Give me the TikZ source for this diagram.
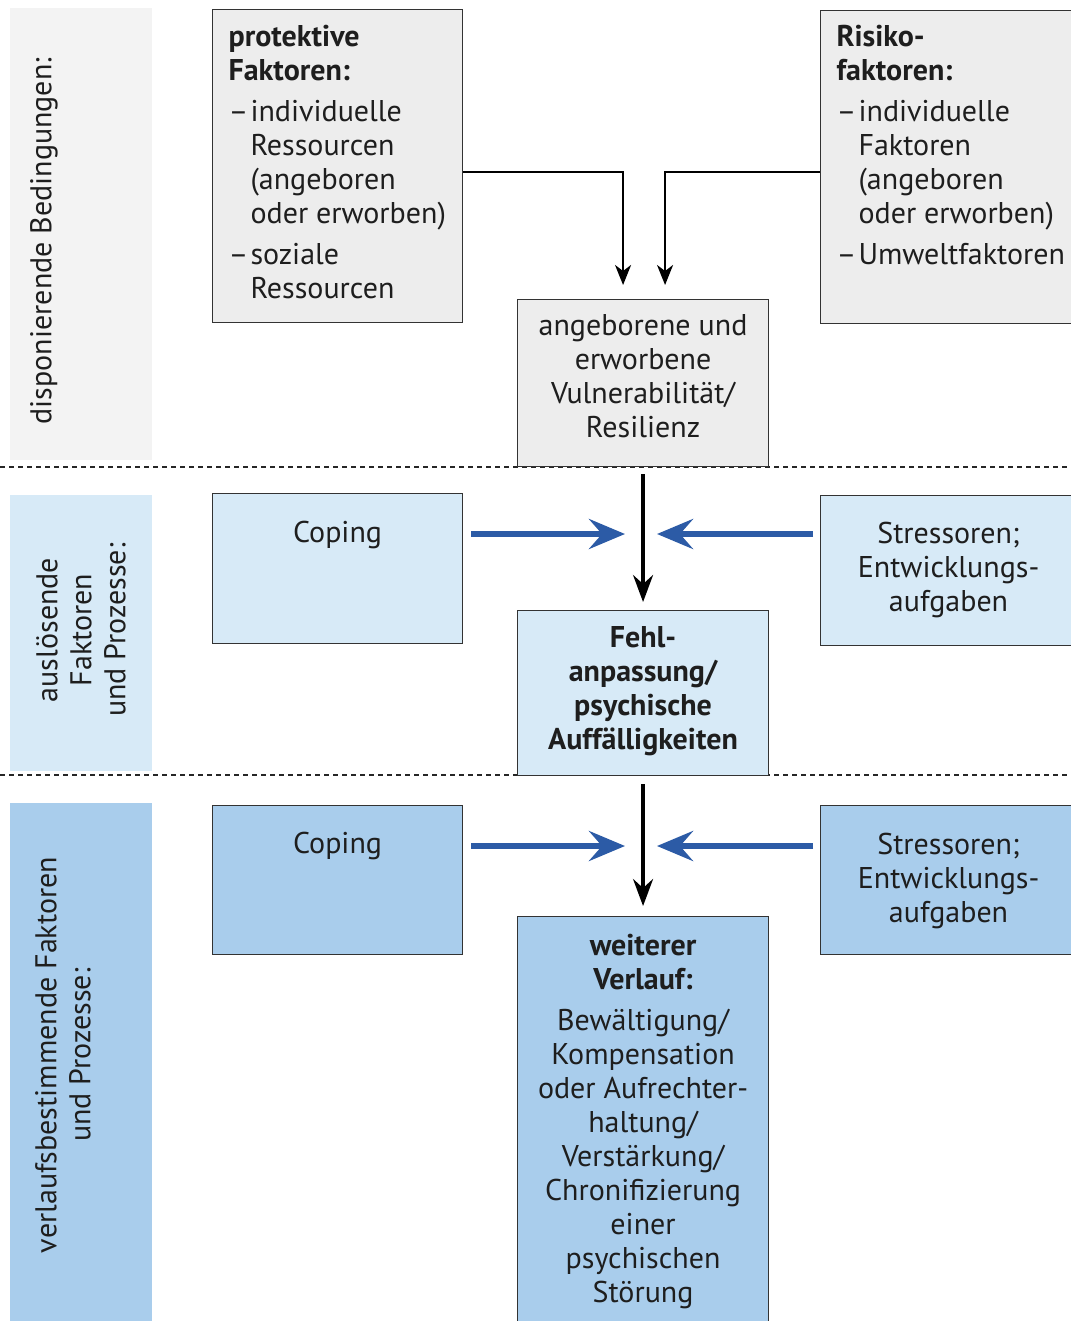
\documentclass[tikz,border=0pt]{standalone}
\usepackage{fontspec}
\setmainfont{PT Sans}
\usetikzlibrary{arrows.meta}
\definecolor{gfill}{HTML}{EDEDED}
\definecolor{panelg}{HTML}{F3F3F3}
\definecolor{lblue}{HTML}{D7EAF7}
\definecolor{mblue}{HTML}{A9CDEC}
\definecolor{arrblue}{HTML}{2C5BA6}
\definecolor{txt}{HTML}{1E1E1E}
\newcommand{\dsh}{\makebox[22pt][l]{–}}
\newcommand{\ind}{\hspace*{22pt}}
\newcommand{\topbox}[4]{\parbox[c][#2pt][t]{#1pt}{\fontsize{30}{34}\selectfont\vspace*{#3pt}#4}}
\begin{document}
\begin{tikzpicture}[x=1pt,y=-1pt,
  every node/.style={text=txt},
  fbox/.style={draw=black!80, line width=1.1pt, inner sep=0pt, anchor=north west},
  lbl/.style={rotate=90, font=\fontsize{30}{34}\selectfont, align=center, text=txt},
  elbow/.style={draw=black, line width=2pt, -{Stealth[length=20pt,width=16pt,inset=6pt]}},
  vdown/.style={draw=black, line width=3.5pt, -{Stealth[length=27pt,width=20pt,inset=9pt]}},
  bluearr/.style={draw=arrblue, line width=6pt, -{Stealth[length=36pt,width=30pt,inset=13pt]}},
  sep/.style={draw=black!85, line width=1.3pt, dash pattern=on 5pt off 4pt}]
\useasboundingbox (0,0) rectangle (1070,1321);
\fill[white] (0,0) rectangle (1070,1321);

% left panels
\fill[panelg] (10,8) rectangle (152,460);
\fill[lblue] (10,495) rectangle (152,771);
\fill[mblue] (10,803) rectangle (152,1321);
\node[lbl] (l1) at (44,241) {disponierende Bedingungen:};
\node[lbl] (l2) at (81,630) {auslösende\\Faktoren\\und Prozesse:};
\node[lbl] (l3) at (63,1055) {verlaufsbestimmende Faktoren\\und Prozesse:};

% separators
\draw[sep] (0,467) -- (1070,467);
\draw[sep] (0,775) -- (1070,775);

% top section
\node[fbox, fill=gfill] (prot) at (212,9) {\topbox{250}{313}{16}{\raggedright\leftskip=16pt
  \textbf{protektive}\\\textbf{Faktoren:}\\[7pt]
  \dsh individuelle\\\ind Ressourcen\\\ind (angeboren\\\ind oder erworben)\\[7pt]
  \dsh soziale\\\ind Ressourcen}};
\node[fbox, fill=gfill] (risk) at (820,10) {\topbox{260}{313}{15}{\raggedright\leftskip=16pt
  \textbf{Risiko-}\\\textbf{faktoren:}\\[7pt]
  \dsh individuelle\\\ind Faktoren\\\ind (angeboren\\\ind oder erworben)\\[7pt]
  \dsh Umweltfaktoren}};
\node[fbox, fill=gfill] (vul) at (517,299) {\topbox{251}{167}{15}{\centering
  angeborene und\\erworbene\\Vulnerabilität/\\Resilienz}};

% middle section
\node[fbox, fill=lblue] (cop1) at (212,493) {\topbox{250}{150}{28}{\centering Coping}};
\node[fbox, fill=lblue] (str1) at (820,495) {\topbox{256}{150}{27}{\centering
  Stressoren;\\Entwicklungs-\\aufgaben}};
\node[fbox, fill=lblue] (fehl) at (517,610) {\topbox{251}{165}{16}{\centering\bfseries
  Fehl-\\anpassung/\\psychische\\Auffälligkeiten}};

% bottom section
\node[fbox, fill=mblue] (cop2) at (212,805) {\topbox{250}{149}{27}{\centering Coping}};
\node[fbox, fill=mblue] (str2) at (820,805) {\topbox{256}{149}{28}{\centering
  Stressoren;\\Entwicklungs-\\aufgaben}};
\node[fbox, fill=mblue] (weit) at (517,916) {\topbox{251}{410}{18}{\centering
  \textbf{weiterer}\\\textbf{Verlauf:}\\[7pt]
  Bewältigung/\\Kompensation\\oder Aufrechter-\\haltung/\\Verstärkung/\\Chronifizierung\\einer\\psychischen\\Störung}};

% connectors
\coordinate (m1) at (642,534);
\coordinate (m2) at (642,846);
\draw[elbow, shorten >=14pt] ([yshift=-5.5pt]prot.east) -| ([xshift=-20pt]vul.north);
\draw[elbow, shorten >=14pt] ([yshift=-4.5pt]risk.west) -| ([xshift=22pt]vul.north);
\draw[vdown, shorten <=7pt, shorten >=8pt] (vul.south) -- (fehl.north);
\draw[vdown, shorten <=8pt, shorten >=10pt] (fehl.south) -- (weit.north);
\draw[bluearr, shorten <=8pt] (cop1.east |- m1) -- ([xshift=-17pt]m1);
\draw[bluearr, shorten <=7pt] (str1.west |- m1) -- ([xshift=15pt]m1);
\draw[bluearr, shorten <=8pt] (cop2.east |- m2) -- ([xshift=-17pt]m2);
\draw[bluearr, shorten <=7pt] (str2.west |- m2) -- ([xshift=15pt]m2);
\end{tikzpicture}
\end{document}
